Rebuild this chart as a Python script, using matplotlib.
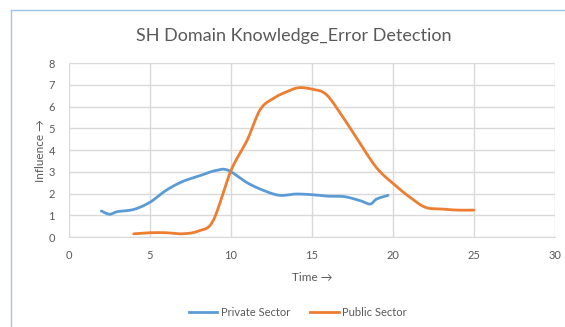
import numpy as np
import matplotlib
matplotlib.use("Agg")
import matplotlib.pyplot as plt
from matplotlib.lines import Line2D

plt.rcParams['font.family'] = ['Lato', 'DejaVu Sans']

title = "SH Domain Knowledge_Error Detection"
x_label = "Time \u2192"
y_label = "Influence \u2192"

private_x = [2, 2.5, 3, 4, 5, 6, 7, 8, 9, 9.8, 11, 12, 13, 14, 15, 16, 17, 18, 18.6, 19, 19.7]
private_y = [1.2, 1.05, 1.17, 1.27, 1.6, 2.15, 2.55, 2.8, 3.05, 3.08, 2.5, 2.15, 1.92, 1.98, 1.95, 1.88, 1.86, 1.67, 1.52, 1.75, 1.92]

public_x = [4, 5, 6, 7, 8, 8.9, 10, 11, 11.8, 12.6, 13.5, 14.2, 15, 15.9, 17, 18, 19, 20, 21, 22, 23, 24, 25]
public_y = [0.15, 0.2, 0.2, 0.15, 0.28, 0.75, 3.05, 4.45, 5.85, 6.37, 6.7, 6.87, 6.8, 6.55, 5.42, 4.28, 3.18, 2.47, 1.86, 1.37, 1.29, 1.24, 1.24]

series_names = ["Private Sector", "Public Sector"]
colors = ["#5B9BD5", "#ED7D31"]


def smooth(xs, ys, n=20):
    # Catmull-Rom rendering of the line through the data points
    p = np.column_stack([xs, ys]).astype(float)
    p = np.vstack([p[0], p, p[-1]])
    out = []
    for i in range(1, len(p) - 2):
        p0, p1, p2, p3 = p[i - 1], p[i], p[i + 1], p[i + 2]
        t = np.linspace(0, 1, n, endpoint=False)[:, None]
        pts = 0.5 * ((2 * p1) + (-p0 + p2) * t + (2 * p0 - 5 * p1 + 4 * p2 - p3) * t ** 2
                     + (-p0 + 3 * p1 - 3 * p2 + p3) * t ** 3)
        out.append(pts)
    out.append(p[-2][None, :])
    out = np.vstack(out)
    return out[:, 0], out[:, 1]


fig = plt.figure(figsize=(5.65, 3.27), dpi=100)
ax = fig.add_axes([0.122, 0.275, 0.86, 0.532])

grid_c = "#D9D9D9"
text_c = "#595959"

for xs, ys, c in zip([private_x, public_x], [private_y, public_y], colors):
    sx, sy = smooth(xs, ys)
    ax.plot(sx, sy, color=c, lw=2.0, solid_capstyle='round', zorder=3)

ax.set_xlim(0, 30)
ax.set_ylim(0, 8)
ax.set_xticks(np.arange(0, 31, 5))
ax.set_yticks(np.arange(0, 9, 1))
ax.grid(True, color=grid_c, lw=1.0)
ax.set_axisbelow(True)
for s in ['top', 'right', 'left']:
    ax.spines[s].set_visible(False)
ax.spines['bottom'].set_color(grid_c)
ax.tick_params(axis='both', length=0, colors=text_c, labelsize=8)
ax.tick_params(axis='x', pad=9)
ax.tick_params(axis='y', pad=10)

ax.set_xlabel(x_label, color=text_c, fontsize=8.5, labelpad=8)
ax.set_ylabel(y_label, color=text_c, fontsize=8.5, labelpad=2)

fig.text(0.52, 0.89, title, ha='center', va='center', color=text_c, fontsize=13)

handles = [Line2D([0], [0], color=c, lw=2) for c in colors]
fig.legend(handles, series_names, loc='center', bbox_to_anchor=(0.527, 0.045), ncol=2,
           frameon=False, fontsize=8, labelcolor=text_c, handlelength=2.6,
           handletextpad=0.3, columnspacing=1.8)

# chart frame (light blue border on top and left)
fig.add_artist(Line2D([11 / 565, 11 / 565], [0, 1 - 10 / 327], color="#9DC3E6", lw=1.0,
                      transform=fig.transFigure))
fig.add_artist(Line2D([11 / 565, 1], [1 - 10 / 327, 1 - 10 / 327], color="#9DC3E6", lw=1.0,
                      transform=fig.transFigure))

fig.savefig("out.png", dpi=100, facecolor='white')
